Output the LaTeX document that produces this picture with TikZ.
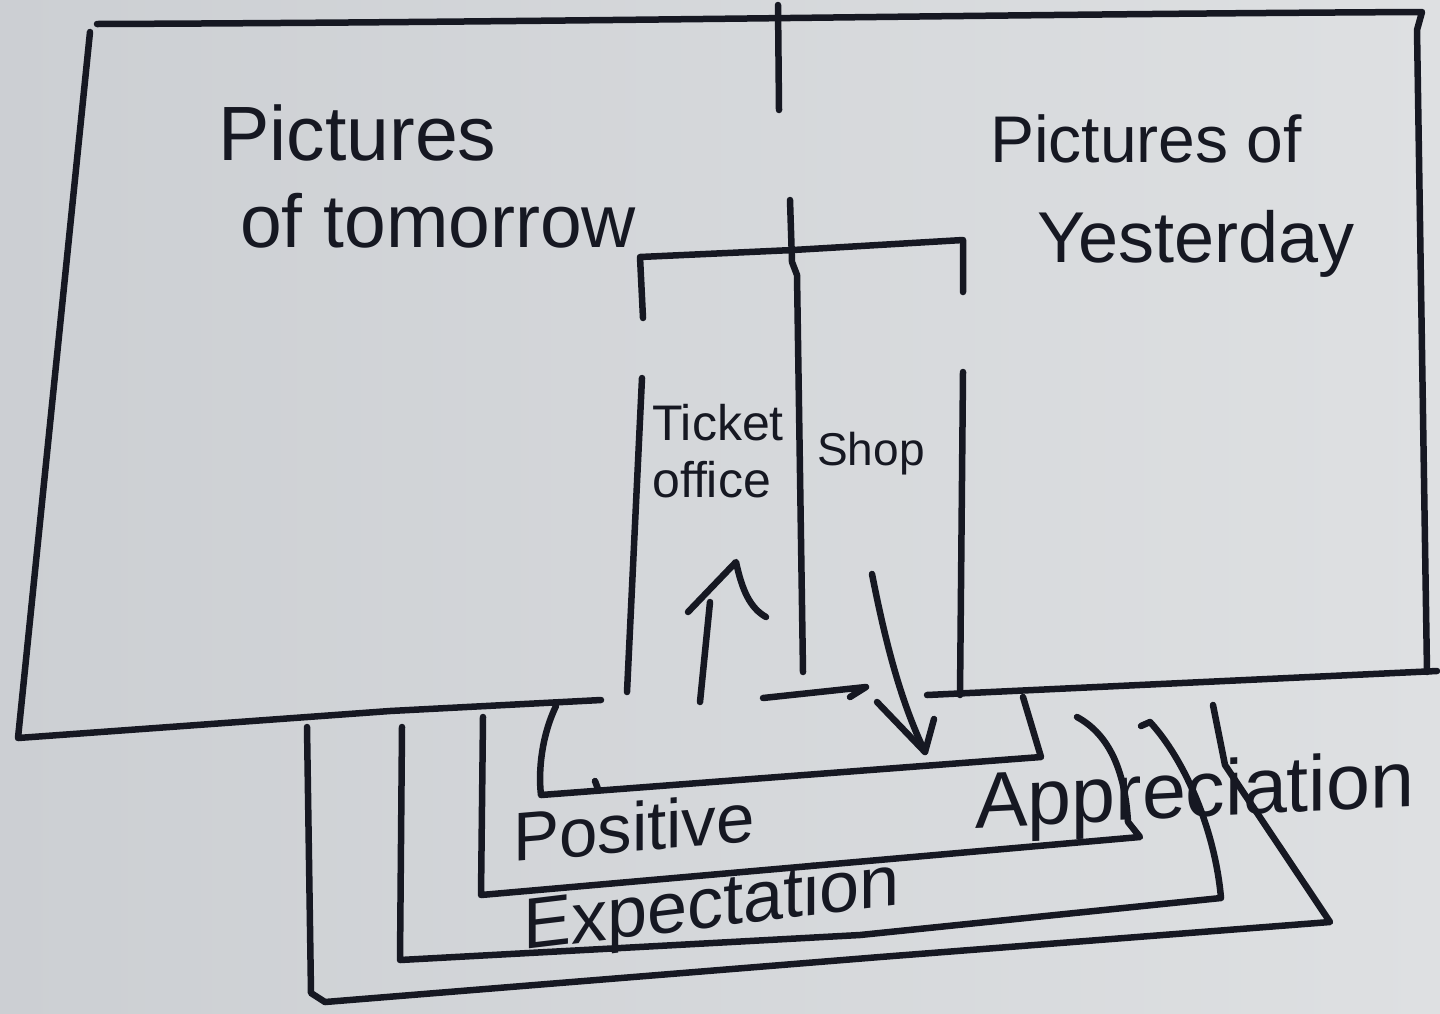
\documentclass[tikz,border=0pt]{standalone}
\usepackage{fontspec}
\setmainfont{Liberation Sans}
\definecolor{ink}{RGB}{22,24,34}
\definecolor{paperL}{RGB}{204,207,211}
\definecolor{paperR}{RGB}{222,224,226}
\begin{document}
\begin{tikzpicture}[x=1pt,y=-1pt,
  pen/.style={draw=ink,line width=6.5pt,line cap=round,line join=round},
  hand/.style={text=ink,inner sep=0pt,anchor=base west}]
% paper
\shade[left color=paperL,right color=paperR] (0,0) rectangle (1440,1013);
\useasboundingbox (0,0) rectangle (1440,1013);

% outer hall
\draw[pen] (97,24) .. controls (600,22) and (1000,14) .. (1422,12)
  -- (1417,30) -- (1427,672);
\draw[pen] (90,32) -- (18,738) -- (390,711) -- (601,700);
\draw[pen] (927,695) -- (1437,671);

% central block with ticket office and shop
\draw[pen] (643,318) -- (640,257) -- (793,250) -- (963,240) -- (963,292);
\draw[pen] (778,5) -- (779,110);
\draw[pen] (790,200) -- (792,262) -- (797,275) -- (803,672);
\draw[pen] (642,378) -- (627,692);
\draw[pen] (963,372) -- (960,695);

% flows through the block
\draw[pen] (700,702) -- (710,602);
\draw[pen] (688,612) -- (736,562) .. controls (742,590) and (750,608) .. (766,617);
\draw[pen] (763,698) -- (866,687) -- (850,697);
\draw[pen] (872,574) .. controls (885,640) and (900,700) .. (925,752);
\draw[pen] (877,702) -- (925,752) -- (934,719);

% nested routes round the entrance
\draw[pen] (556,706) .. controls (542,735) and (538,770) .. (541,795)
  -- (1041,757) -- (1023,697);
\draw[pen] (595,781) -- (598,789);
\draw[pen] (483,717) -- (481,895) -- (1140,837) -- (1128,822)
  .. controls (1125,772) and (1110,735) .. (1077,717);
\draw[pen] (402,727) -- (400,960) -- (860,935) -- (1221,898)
  .. controls (1215,830) and (1185,760) .. (1150,722) -- (1141,726);
\draw[pen] (307,727) -- (311,993) -- (325,1002) -- (880,957) -- (1330,922)
  -- (1225,765) -- (1213,705);

% labels (the lower ones follow the rising lines)
\node[hand,font=\fontsize{77}{80}\selectfont] (pt) at (218,160) {Pictures};
\node[hand,font=\fontsize{75}{80}\selectfont] (tm) at (240,247) {of tomorrow};
\node[hand,font=\fontsize{66}{70}\selectfont] (py) at (990,162) {Pictures of};
\node[hand,font=\fontsize{72}{76}\selectfont] (yd) at (1037,262) {Yesterday};
\node[hand,font=\fontsize{50}{54}\selectfont] (tk) at (652,440) {Ticket};
\node[hand,font=\fontsize{50}{54}\selectfont] (of) at (652,497) {office};
\node[hand,font=\fontsize{46}{50}\selectfont] (sh) at (817,465) {Shop};
\node[hand,font=\fontsize{69}{72}\selectfont,yslant=0.085] (po) at (513,862) {Positive};
\node[hand,font=\fontsize{72}{76}\selectfont,yslant=0.12] (ex) at (523,950) {Expectation};
\node[hand,font=\fontsize{79}{82}\selectfont,yslant=0.05] (ap) at (975,828) {Appreciation};
\end{tikzpicture}
\end{document}
